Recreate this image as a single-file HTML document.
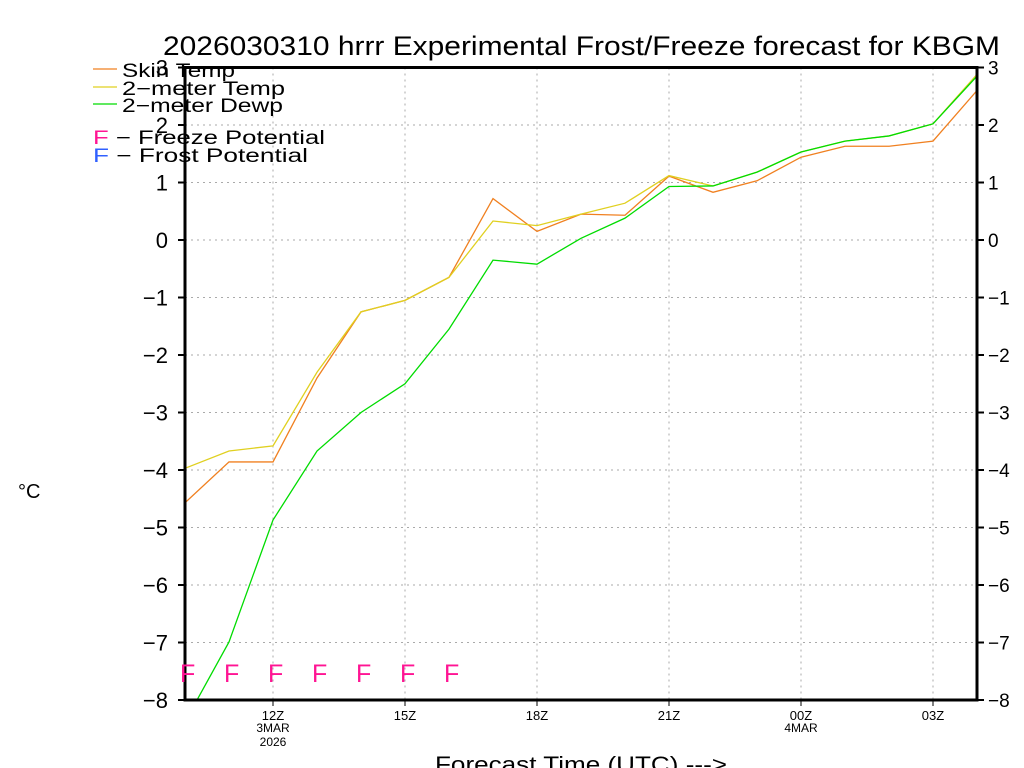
<!DOCTYPE html>
<html><head><meta charset="utf-8"><style>
html,body{margin:0;padding:0;background:#fff;}
svg{display:block;font-family:"Liberation Sans",sans-serif;}
</style></head><body>
<svg id="chart" width="1024" height="768" viewBox="0 0 1024 768" xmlns="http://www.w3.org/2000/svg">
<rect width="1024" height="768" fill="#fff"/>
<text x="163" y="55" font-size="27" textLength="837" lengthAdjust="spacingAndGlyphs" fill="#000">2026030310 hrrr Experimental Frost/Freeze forecast for KBGM</text>
<g id="grid"></g>
<g id="series"></g>
<g id="axes"></g>
<g font-size="19">
<line x1="93" y1="69" x2="117" y2="69" stroke="#f08020" stroke-width="1.3"/>
<text x="122" y="77" textLength="113" lengthAdjust="spacingAndGlyphs">Skin Temp</text>
<line x1="93" y1="87" x2="117" y2="87" stroke="#e0d020" stroke-width="1.3"/>
<text x="122" y="95" textLength="163" lengthAdjust="spacingAndGlyphs">2−meter Temp</text>
<line x1="93" y1="104" x2="117" y2="104" stroke="#00dc00" stroke-width="1.3"/>
<text x="122" y="112" textLength="161" lengthAdjust="spacingAndGlyphs">2−meter Dewp</text>
<text x="93" y="144" textLength="232" lengthAdjust="spacingAndGlyphs"><tspan fill="#ff1493">F</tspan> − Freeze Potential</text>
<text x="93" y="162" textLength="215" lengthAdjust="spacingAndGlyphs"><tspan fill="#3060ff">F</tspan> − Frost Potential</text>
</g>
<text x="18" y="498" font-size="20">°C</text>
<text x="435" y="772" font-size="22" textLength="292" lengthAdjust="spacingAndGlyphs">Forecast Time (UTC) ---&gt;</text>
</svg>
<script>
const hours = [10,11,12,13,14,15,16,17,18,19,20,21,22,23,24,25,26,27,28];
const skinTemp = [-4.57,-3.86,-3.86,-2.4,-1.25,-1.05,-0.65,0.72,0.15,0.45,0.43,1.11,0.83,1.03,1.44,1.63,1.63,1.72,2.6];
const temp2m = [-3.97,-3.67,-3.58,-2.3,-1.25,-1.05,-0.65,0.33,0.25,0.45,0.64,1.12,0.94,1.18,1.53,1.72,1.81,2.02,2.88];
const dewp2m = [-8.38,-6.99,-4.87,-3.67,-3.0,-2.5,-1.55,-0.35,-0.42,0.03,0.38,0.93,0.94,1.18,1.53,1.72,1.81,2.02,2.85];
const freezeHours = [10,11,12,13,14,15,16];
const yTicks = [-8,-7,-6,-5,-4,-3,-2,-1,0,1,2,3];
const xTickHours = [12,15,18,21,24,27];
const xTickLabels = ["12Z","15Z","18Z","21Z","00Z","03Z"];
const xTickSub1 = ["3MAR","","","","4MAR",""];
const xTickSub2 = ["2026","","","","",""];

const X0=185,X1=977,Y0=700,Y1=67.5,HMIN=10,HMAX=28,VMIN=-8,VMAX=3;
const xs=h=>X0+(h-HMIN)/(HMAX-HMIN)*(X1-X0);
const ys=v=>Y0-(v-VMIN)/(VMAX-VMIN)*(Y0-Y1);
const NS="http://www.w3.org/2000/svg";
function mk(tag,attrs,parent){const e=document.createElementNS(NS,tag);for(const k in attrs)e.setAttribute(k,attrs[k]);parent.appendChild(e);return e;}
const grid=document.getElementById('grid'),ser=document.getElementById('series'),ax=document.getElementById('axes');

const defs=mk('defs',{},document.getElementById('chart'));
const cp=mk('clipPath',{id:'plotclip'},defs);
mk('rect',{x:X0,y:Y1,width:X1-X0,height:Y0-Y1},cp);
ser.setAttribute('clip-path','url(#plotclip)');

yTicks.forEach(v=>{
  const y=ys(v);
  if(v>VMIN&&v<VMAX){const g=mk('line',{x1:X0,x2:X1,y1:y,y2:y,stroke:'#aaa','stroke-dasharray':'2,4'},grid);
  
  }
  mk('line',{x1:X0-7,x2:X0,y1:y,y2:y,stroke:'#000','stroke-width':2},ax);
  mk('line',{x1:X1,x2:X1+7,y1:y,y2:y,stroke:'#000','stroke-width':2},ax);
  const lab=v<0?'−'+Math.abs(v):String(v);
  const t=mk('text',{x:X0-17,y:y+8,'font-size':22,'text-anchor':'end'},ax);t.textContent=lab;
  
  
  const t2=mk('text',{x:X1+11,y:y+7,'font-size':19},ax);t2.textContent=lab;
  
  
});
xTickHours.forEach((h,i)=>{
  const x=xs(h);
  const g=mk('line',{x1:x,x2:x,y1:Y1,y2:Y0,stroke:'#aaa','stroke-dasharray':'2,4'},grid);
  
  
  mk('line',{x1:x,x2:x,y1:Y0,y2:Y0+6,stroke:'#000','stroke-width':1},ax);
  const t=mk('text',{x:x,y:Y0+20,'font-size':13,'text-anchor':'middle'},ax);t.textContent=xTickLabels[i];
  
  
  if(xTickSub1[i]){const s=mk('text',{x:x,y:Y0+32,'font-size':12,'text-anchor':'middle'},ax);s.textContent=xTickSub1[i];
  
  }
  if(xTickSub2[i]){const s=mk('text',{x:x,y:Y0+46,'font-size':12,'text-anchor':'middle'},ax);s.textContent=xTickSub2[i];
  
  }
});
const frame=mk('rect',{x:X0,y:Y1,width:X1-X0,height:Y0-Y1,fill:'none',stroke:'#000','stroke-width':3},ax);



function line(vals,color,name){
  const p=mk('polyline',{points:vals.map((v,i)=>xs(hours[i])+','+ys(v)).join(' '),fill:'none',stroke:color,'stroke-width':1.3},ser);
  
  
}
line(skinTemp,'#f08020','skin-temp-line');
line(temp2m,'#e0d020','2m-temp-line');
line(dewp2m,'#00dc00','2m-dewp-line');

freezeHours.forEach(h=>{
  const t=mk('text',{x:xs(h)-5,y:682,'font-size':25,fill:'#ff1493'},document.getElementById('chart'));
  t.textContent='F';
  
  
});
</script>
</body></html>
